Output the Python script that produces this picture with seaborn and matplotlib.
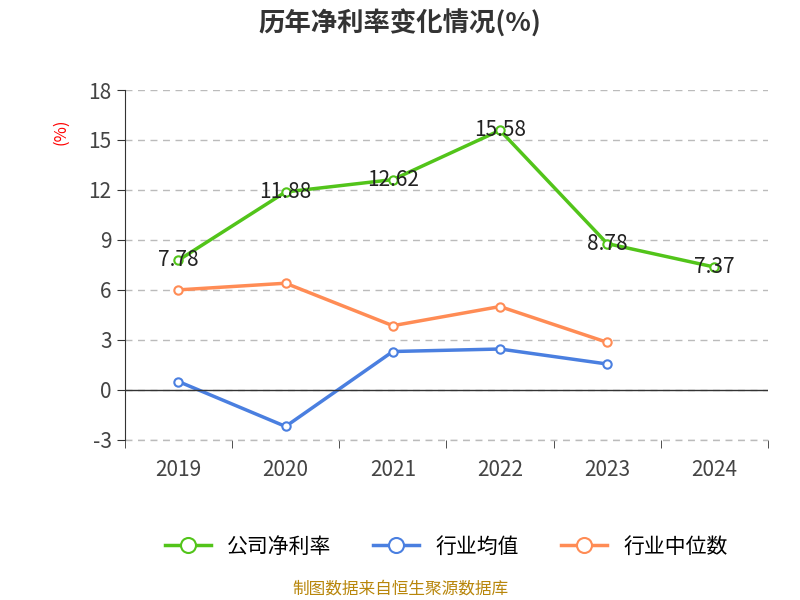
import matplotlib
matplotlib.use("Agg")
import matplotlib.pyplot as plt
import seaborn as sns
import pandas as pd

years = ["2019", "2020", "2021", "2022", "2023", "2024"]
company = [7.78, 11.88, 12.62, 15.58, 8.78, 7.37]
industry_avg = [0.5, -2.2, 2.3, 2.45, 1.55, None]
industry_med = [6.0, 6.4, 3.85, 5.0, 2.85, None]
yticks = [-3, 0, 3, 6, 9, 12, 15, 18]

plt.rcParams["font.family"] = ["Noto Sans CJK SC", "Noto Sans CJK JP", "Noto Sans CJK TC", "Noto Sans CJK KR", "DejaVu Sans"]
fig = plt.figure(figsize=(8, 6), dpi=100)
ax = fig.add_axes([0.156, 0.267, 0.804, 0.583])

x = list(range(len(years)))
series = [("公司净利率", company, "#52c41a"), ("行业均值", industry_avg, "#4a7fe0"), ("行业中位数", industry_med, "#ff8c55")]
for name, vals, c in series:
    df = pd.DataFrame({"x": x, "y": vals}).dropna()
    sns.lineplot(data=df, x="x", y="y", ax=ax, color=c, linewidth=2.5, marker="o",
                 markersize=6, markerfacecolor="white", markeredgecolor=c, markeredgewidth=1.5,
                 label=name)
for i, v in enumerate(company):
    ax.text(i, v, f"{v:.2f}", ha="center", va="center", fontsize=15, color="#222222")

ax.set_xlim(-0.5, 5.5)
ax.set_ylim(-3, 18)
ax.set_yticks(yticks)
ax.set_yticklabels([str(t) for t in yticks], fontsize=15, color="#444444")
ax.set_xticks(x)
ax.set_xticklabels(years, fontsize=15, color="#444444")
ax.set_xticks([i - 0.5 for i in range(7)], minor=True)
ax.tick_params(axis="x", which="major", length=0, pad=14)
ax.tick_params(axis="x", which="minor", length=6, color="#333333")
ax.tick_params(axis="y", length=6, color="#333333")
ax.set_xlabel("")
ax.set_ylabel("")
ax.grid(axis="y", linestyle=(0, (5, 4)), color="#bbbbbb", linewidth=1)
for s in ["top", "right", "bottom"]:
    ax.spines[s].set_visible(False)
ax.spines["left"].set_color("#333333")
ax.axhline(0, color="#333333", linewidth=1)
ax.axhline(-3, color="#bbbbbb", linewidth=1, linestyle=(0, (5, 4)), clip_on=False)
ax.text(-0.1, 0.88, "(%)", transform=ax.transAxes, rotation=90, color="red", fontsize=12, ha="center", va="center")

ax.legend(loc="upper center", bbox_to_anchor=(0.5, -0.22), ncol=3, frameon=False,
          fontsize=15, handlelength=2.2, columnspacing=2.0, markerscale=1.8)
fig.text(0.5, 0.96, "历年净利率变化情况(%)", ha="center", va="center", fontsize=19, fontweight="bold", color="#333333")
fig.text(0.5, 0.018, "制图数据来自恒生聚源数据库", ha="center", va="center", fontsize=12, color="#b8860b")
fig.savefig("out.png", dpi=100)
